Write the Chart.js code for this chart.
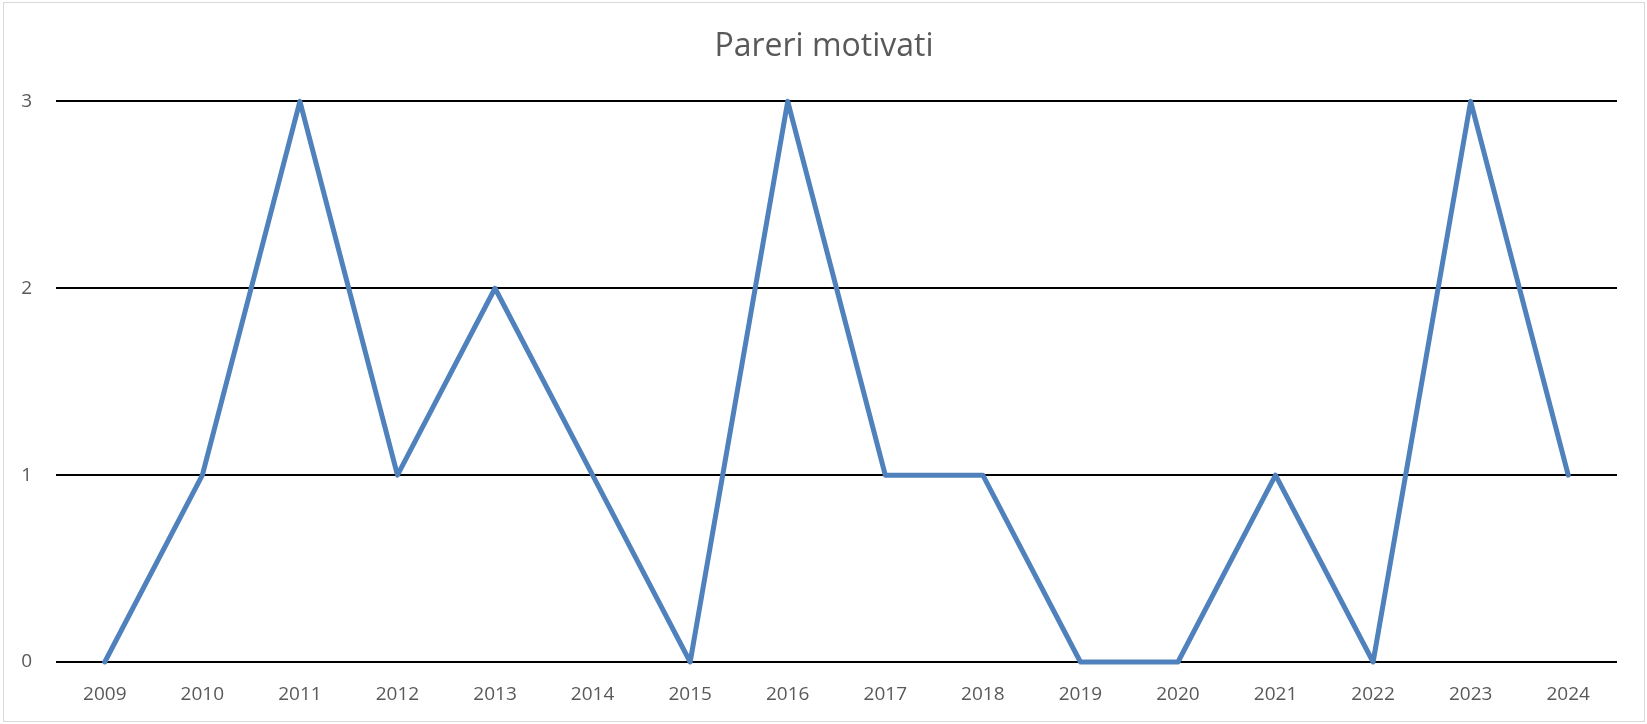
<!DOCTYPE html>
<html>
<head>
<meta charset="utf-8">
<script src="https://cdn.jsdelivr.net/npm/chart.js@4"></script>
<style>
  body { margin: 0; background: #fff; }
  #box { position: absolute; left: 3px; top: 2px; width: 1640px; height: 718px; border: 1px solid #d9d9d9; }
</style>
</head>
<body>
<div id="box"><canvas id="chart" width="1640" height="718"></canvas></div>
<script>
const years = ['2009', '2010', '2011', '2012', '2013', '2014', '2015', '2016',
               '2017', '2018', '2019', '2020', '2021', '2022', '2023', '2024'];
const pareri = [0, 1, 3, 1, 2, 1, 0, 3, 1, 1, 0, 0, 1, 0, 3, 1];
const yTicks = [0, 1, 2, 3];

const textColor = '#595959';
const fontFamily = '"Open Sans", sans-serif';

const ctx = document.getElementById('chart').getContext('2d');
new Chart(ctx, {
    type: 'line',
    data: {
        labels: years,
        datasets: [{
            label: 'Pareri motivati',
            data: pareri,
            borderColor: '#4f81bd',
            borderWidth: 5,
            borderCapStyle: 'round',
            borderJoinStyle: 'round',
            pointRadius: 0,
            tension: 0,
            clip: false
        }]
    },
    options: {
        responsive: false,
        animation: false,
        layout: {padding: 0},
        plugins: {
            legend: {display: false},
            tooltip: {enabled: false},
            title: {
                display: true,
                text: 'Pareri motivati',
                color: textColor,
                font: {family: fontFamily, size: 32, weight: 'normal'},
                padding: {top: 25, bottom: 35}
            }
        },
        scales: {
            x: {
                offset: true,
                grid: {display: false, drawTicks: false},
                border: {display: false},
                ticks: {color: textColor, font: {family: fontFamily, size: 19}, padding: 21, maxRotation: 0},
                afterFit: s => { s.height = 59; }
            },
            y: {
                min: 0,
                max: 3,
                afterBuildTicks: s => { s.ticks = yTicks.map(v => ({value: v})); },
                grid: {color: '#000', lineWidth: 2, drawTicks: false},
                border: {display: false},
                ticks: {color: textColor, font: {family: fontFamily, size: 19}, padding: 24},
                afterFit: s => { s.width = 52; }
            },
            // empty right axis, only reserves the right margin so the title stays centred
            yRight: {
                position: 'right',
                min: 0,
                max: 3,
                grid: {display: false, drawTicks: false},
                border: {display: false},
                ticks: {display: false},
                afterFit: s => { s.width = 27; }
            }
        }
    }
});
</script>
</body>
</html>
